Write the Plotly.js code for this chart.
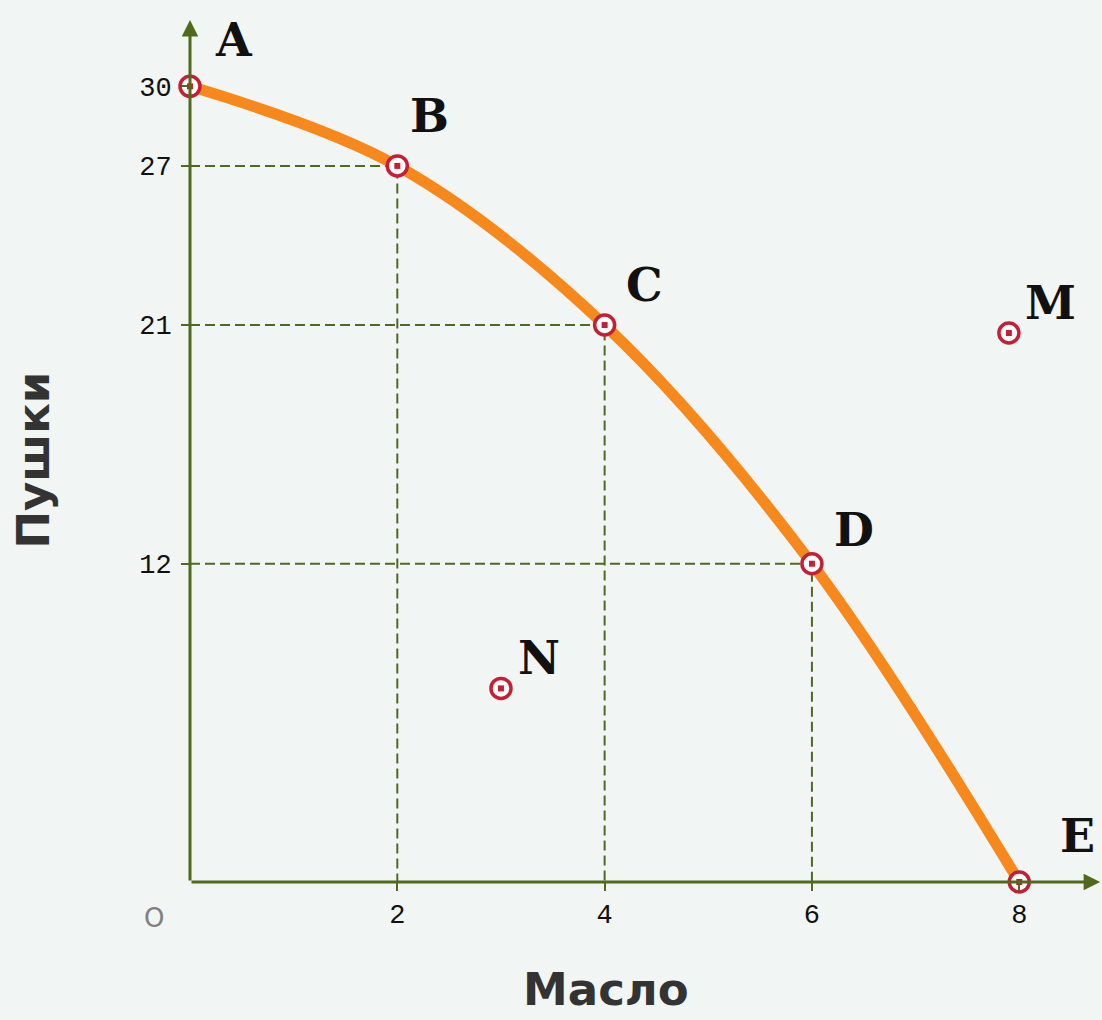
<!DOCTYPE html>
<html>
<head>
<meta charset="utf-8">
<script src="https://cdn.plot.ly/plotly-3.0.1.min.js"></script>
<style>
  html, body { margin: 0; padding: 0; background: #f1f5f3; }
  #chart { width: 1102px; height: 1020px; }
</style>
</head>
<body>
<div id="chart"></div>
<script>
// Кривая производственных возможностей: масло против пушек
const frontierLabels = ['A', 'B', 'C', 'D', 'E'];
const frontierButter = [0, 2, 4, 6, 8];
const frontierGuns = [30, 27, 21, 12, 0];

// Точки вне кривой
const extraLabels = ['M', 'N'];
const extraButter = [7.9, 3];
const extraGuns = [20.7, 7.3];

const xTicks = [2, 4, 6, 8];
const yTicks = [12, 21, 27, 30];

const AXIS_COLOR = '#4f6a1d';
const DASH_COLOR = '#4d6b22';
const CURVE_COLOR = '#f7891c';
const MARK_COLOR = '#c42035';

// Пунктирные проекции B, C, D на оси
const dashX = [];
const dashY = [];
for (let i = 1; i < frontierLabels.length - 1; i++) {
    dashX.push(0, frontierButter[i], frontierButter[i], null);
    dashY.push(frontierGuns[i], frontierGuns[i], 0, null);
}

const traceDash = {
    x: dashX,
    y: dashY,
    mode: 'lines',
    line: { color: DASH_COLOR, width: 2, dash: '10px,5px' },
    hoverinfo: 'skip',
    cliponaxis: false,
};

const traceCurve = {
    x: frontierButter,
    y: frontierGuns,
    mode: 'lines',
    line: { color: CURVE_COLOR, width: 11, shape: 'spline', smoothing: 1 },
    cliponaxis: false,
};

const allX = frontierButter.concat(extraButter);
const allY = frontierGuns.concat(extraGuns);

// Кольцо маркера
const tracePtsRing = {
    x: allX,
    y: allY,
    mode: 'markers',
    marker: { symbol: 'circle', size: 20, color: '#ffffff', line: { color: MARK_COLOR, width: 3.5 } },
    cliponaxis: false,
};

// Центральная точка маркера
const tracePtsDot = {
    x: allX,
    y: allY,
    mode: 'markers',
    marker: { symbol: 'square', size: 6, color: MARK_COLOR, line: { width: 0 } },
    cliponaxis: false,
};

// Подписи точек (смещение от маркера в пикселях)
const labelShift = { A: [44, 46], B: [32, 50], C: [40, 40], D: [42, 34], E: [58, 46], M: [42, 30], N: [38, 30] };
const letterFont = { family: 'DejaVu Serif', size: 46, color: '#111111', weight: 'bold' };

const annotations = [];
frontierLabels.concat(extraLabels).forEach((name, i) => {
    annotations.push({
        x: allX[i], y: allY[i], text: name, showarrow: false,
        xshift: labelShift[name][0], yshift: labelShift[name][1], font: letterFont,
    });
});

// Оси со стрелками
annotations.push({
    x: 8.78, y: 0, ax: 0, ay: 0, axref: 'x', ayref: 'y', xref: 'x', yref: 'y',
    showarrow: true, arrowhead: 2, arrowsize: 1.1, arrowwidth: 3, arrowcolor: AXIS_COLOR, text: '',
});
annotations.push({
    x: 0, y: 32.5, ax: 0, ay: 0, axref: 'x', ayref: 'y', xref: 'x', yref: 'y',
    showarrow: true, arrowhead: 2, arrowsize: 1.1, arrowwidth: 3, arrowcolor: AXIS_COLOR, text: '',
});

// Начало координат
annotations.push({
    x: 0, y: 0, text: 'O', showarrow: false, xshift: -36, yshift: -36,
    font: { family: 'DejaVu Sans', size: 26, color: '#808080' },
});

// Подписи осей
const titleFont = { family: 'DejaVu Sans', size: 45, color: '#333333', weight: 'bold' };
annotations.push({
    xref: 'paper', yref: 'paper', x: 0.459, y: 0, yshift: -136, text: 'Масло',
    showarrow: false, font: titleFont,
});
annotations.push({
    xref: 'paper', yref: 'paper', x: 0, y: 0.494, xshift: -185, text: 'Пушки',
    textangle: -90, showarrow: false, font: titleFont,
});

const tickFont = { family: 'Liberation Mono', size: 27, color: '#111111' };

const layout = {
    width: 1102,
    height: 1020,
    margin: { t: 28, r: 5, l: 190, b: 138 },
    paper_bgcolor: '#f1f5f3',
    plot_bgcolor: '#f1f5f3',
    showlegend: false,
    xaxis: {
        range: [0, 8.75],
        tickvals: xTicks,
        ticks: 'outside',
        ticklen: 8,
        tickwidth: 2,
        tickcolor: AXIS_COLOR,
        showgrid: false,
        zeroline: false,
        showline: false,
        tickfont: tickFont,
        fixedrange: true,
    },
    yaxis: {
        range: [0, 32.2],
        tickvals: yTicks,
        ticks: 'outside',
        ticklen: 8,
        tickwidth: 2,
        tickcolor: AXIS_COLOR,
        ticklabelstandoff: 4,
        showgrid: false,
        zeroline: false,
        showline: false,
        tickfont: tickFont,
        fixedrange: true,
    },
    annotations: annotations,
};

Plotly.newPlot('chart', [traceDash, traceCurve, tracePtsRing, tracePtsDot], layout, {
    displayModeBar: false,
    staticPlot: true,
});
</script>
</body>
</html>
